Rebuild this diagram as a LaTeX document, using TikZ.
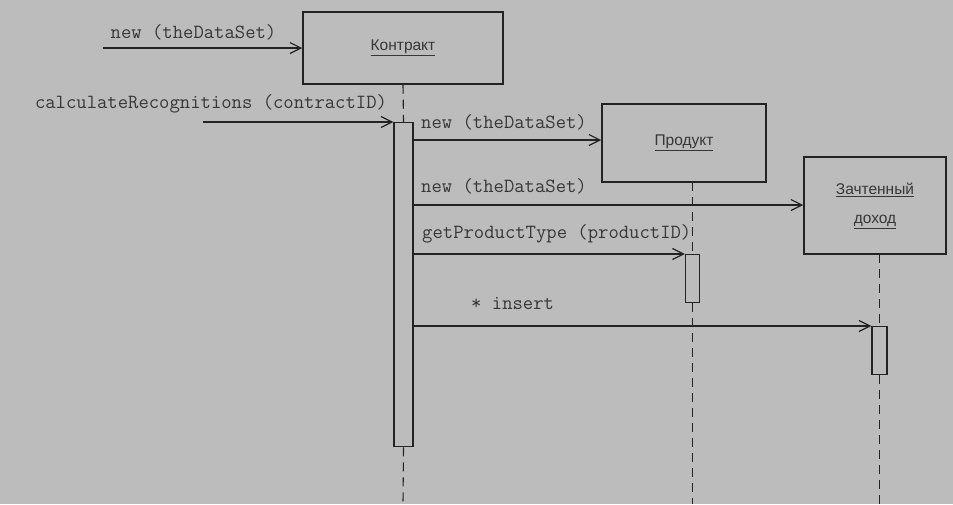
\documentclass[tikz,border=0pt]{standalone}
\usepackage{fontspec}
\setmainfont{Liberation Sans}
\usetikzlibrary{arrows.meta}
\definecolor{paper}{RGB}{188,188,188}
\definecolor{ink}{RGB}{35,35,35}
\definecolor{txt}{RGB}{55,55,55}
\newcommand\msgfont{\ttfamily\fontsize{20.1}{22}\selectfont}
\newcommand\clsfont{\fontsize{15.5}{29}\selectfont}
\tikzset{
  cls/.style={draw=ink, line width=1.5pt, fill=paper, text=txt, align=center, font=\clsfont, inner sep=0pt},
  act/.style={draw=ink, line width=1.4pt, fill=paper, anchor=north, inner sep=0pt},
  msg/.style={draw=ink, line width=1.3pt, -{Straight Barb[length=11pt,width=11pt,line width=1.2pt]}},
  life/.style={draw=ink, line width=1.1pt, dash pattern=on 9pt off 6pt},
  lbl/.style={text=txt, font=\msgfont, inner sep=0pt}
}
\begin{document}
\begin{tikzpicture}[x=1pt,y=-1pt]
\useasboundingbox[fill=paper] (0,0) rectangle (953,504);
% objects
\node[cls, minimum width=200pt, minimum height=72pt] (k) at (403,48) {\underline{Контракт}};
\node[cls, minimum width=164pt, minimum height=78pt] (p) at (684,143) {\underline{Продукт}};
\node[cls, minimum width=142pt, minimum height=97pt] (z) at (875,205.5) {\underline{Зачтенный}\\\underline{доход}};
% activations
\node[act, minimum width=19pt, minimum height=324pt] (ak) at (403.5,122) {};
\node[act, minimum width=14pt, minimum height=48pt] (ap) at (692.5,254) {};
\node[act, minimum width=15pt, minimum height=48pt] (az) at (879.5,326) {};
% lifeline ends
\coordinate (ke) at (403,504);
\coordinate (pe) at (692.5,504);
\coordinate (ze) at (879.5,504);
\coordinate (pt) at (692.5,182);
\coordinate (zt) at (879.5,254);
\draw[life] (k.south) -- (ak.north);
\draw[life] (ak.south) -- (ke);
\draw[life] (pt) -- (ap.north);
\draw[life] (ap.south) -- (pe);
\draw[life] (zt) -- (az.north);
\draw[life] (az.south) -- (ze);
% message rows
\coordinate (s1) at (103,48);
\coordinate (s2) at (203,122);
\coordinate (r3) at (0,140);
\coordinate (r4) at (0,205);
\coordinate (r5) at (0,254);
\coordinate (r6) at (0,326);
\draw[msg] (s1) -- (k.west);
\draw[msg] (s2) -- (ak.north west);
\draw[msg] (ak.east |- r3) -- (p.west |- r3);
\draw[msg] (ak.east |- r4) -- (z.west |- r4);
\draw[msg] (ak.east |- r5) -- (ap.north west);
\draw[msg] (ak.east |- r6) -- (az.north west);
% labels
\node[lbl] (l1) at (193.5,32) {new (theDataSet)};
\node[lbl] (l2) at (211,104) {calculateRecognitions (contractID)};
\node[lbl, anchor=west] (l3) at (421,122) {new (theDataSet)};
\node[lbl, anchor=west] (l4) at (421,186) {new (theDataSet)};
\node[lbl, anchor=west] (l5) at (422,234) {getProductType (productID)};
\node[lbl, anchor=west] (l6) at (471,304) {* insert};
\end{tikzpicture}
\end{document}
